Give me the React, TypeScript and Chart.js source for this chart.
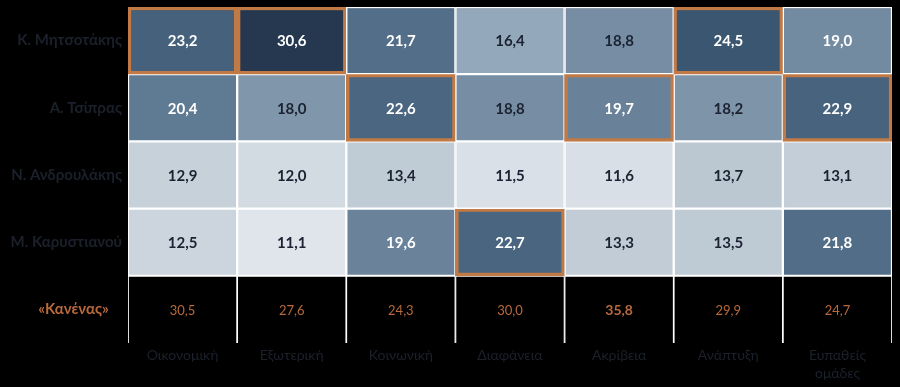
import React, { useEffect, useRef } from "react";
import { Chart, registerables } from "chart.js";

Chart.register(...registerables);

// Policy areas (columns) and respondents' choices (rows)
const categories: (string | string[])[] = [
  "Οικονομική",
  "Εξωτερική",
  "Κοινωνική",
  "Διαφάνεια",
  "Ακρίβεια",
  "Ανάπτυξη",
  ["Ευπαθείς", "ομάδες"],
];
const rowLabels = ["Κ. Μητσοτάκης", "Α. Τσίπρας", "Ν. Ανδρουλάκης", "Μ. Καρυστιανού", "«Κανένας»"];

const mitsotakis = [23.2, 30.6, 21.7, 16.4, 18.8, 24.5, 19.0];
const tsipras = [20.4, 18.0, 22.6, 18.8, 19.7, 18.2, 22.9];
const androulakis = [12.9, 12.0, 13.4, 11.5, 11.6, 13.7, 13.1];
const karystianou = [12.5, 11.1, 19.6, 22.7, 13.3, 13.5, 21.8];
const noneOfThem = [30.5, 27.6, 24.3, 30.0, 35.8, 29.9, 24.7];

const candidateRows = [mitsotakis, tsipras, androulakis, karystianou];
const allRows = [...candidateRows, noneOfThem];

const ORANGE = "#c17a45";
const ORANGE_TEXT = "#b9693b";
const DARK_LABEL = "#1b202b";
const DARK_TEXT = "#1b2232";
const FONT = "Lato, 'Noto Sans', sans-serif";

// Sequential blue-grey scale
const stops: [number, [number, number, number]][] = [
  [11.0, [224, 230, 236]],
  [13.5, [190, 202, 212]],
  [16.4, [148, 168, 187]],
  [18.8, [118, 141, 163]],
  [20.4, [95, 122, 147]],
  [22.7, [73, 101, 127]],
  [24.5, [58, 86, 112]],
  [30.6, [38, 56, 80]],
];

function heatColor(v: number): string {
  if (v <= stops[0][0]) return `rgb(${stops[0][1].join(",")})`;
  for (let i = 1; i < stops.length; i++) {
    const [v1, c1] = stops[i];
    const [v0, c0] = stops[i - 1];
    if (v <= v1) {
      const t = (v - v0) / (v1 - v0);
      const c = c0.map((a, k) => Math.round(a + (c1[k] - a) * t));
      return `rgb(${c.join(",")})`;
    }
  }
  return `rgb(${stops[stops.length - 1][1].join(",")})`;
}

const fmt = (v: number) => v.toFixed(1).replace(".", ",");

const columnMax = categories.map((_, c) => Math.max(...candidateRows.map((r) => r[c])));
const noneMax = Math.max(...noneOfThem);

const valueLabels = {
  id: "valueLabels",
  afterDatasetsDraw(chart: any) {
    const ctx = chart.ctx;
    ctx.save();
    ctx.textAlign = "center";
    ctx.textBaseline = "middle";
    chart.data.datasets.forEach((_: any, r: number) => {
      const meta = chart.getDatasetMeta(r);
      meta.data.forEach((bar: any, c: number) => {
        const v = allRows[r][c];
        const { x, y } = bar.getCenterPoint();
        if (r < 4) {
          ctx.font = `bold 15px ${FONT}`;
          ctx.fillStyle = v >= 19 ? "#ffffff" : DARK_TEXT;
        } else {
          const isMax = v === noneMax;
          ctx.font = isMax ? `bold 14px ${FONT}` : `13px ${FONT}`;
          ctx.fillStyle = ORANGE_TEXT;
        }
        ctx.fillText(fmt(v), x, y + 1);
      });
    });
    ctx.restore();
  },
};

export default function App() {
  const ref = useRef<HTMLCanvasElement | null>(null);

  useEffect(() => {
    if (!ref.current) return;
    const datasets = allRows.map((row, r) => {
      const isNone = r === 4;
      return {
        label: rowLabels[r],
        data: row.map(() => [r, r + 1]),
        grouped: false,
        barPercentage: 1,
        categoryPercentage: 1,
        borderSkipped: false,
        backgroundColor: row.map((v) => (isNone ? "#000000" : heatColor(v))),
        borderColor: row.map((v, c) =>
          !isNone && v === columnMax[c] ? ORANGE : "#ffffff"
        ),
        borderWidth: row.map((v, c) =>
          isNone
            ? { top: 1.2, left: 1.2, right: 1.2, bottom: 0 }
            : v === columnMax[c]
            ? 3.5
            : 1.5
        ),
      };
    });

    const chart = new Chart(ref.current, {
      type: "bar",
      data: { labels: categories as any, datasets: datasets as any },
      plugins: [valueLabels],
      options: {
        animation: false,
        responsive: false,
        events: [],
        layout: { padding: { left: 0, right: 8, top: 7, bottom: 0 } },
        plugins: { legend: { display: false }, tooltip: { enabled: false } },
        scales: {
          x: {
            type: "category",
            grid: { display: false, drawTicks: false },
            border: { display: false },
            ticks: {
              color: DARK_LABEL,
              font: { family: FONT, size: 14, lineHeight: 1.25 },
              padding: 4,
              maxRotation: 0,
              autoSkip: false,
            },
            afterFit: (s: any) => {
              s.height = 44;
              s.paddingLeft = 0;
              s.paddingRight = 0;
            },
          },
          y: {
            type: "linear",
            min: 0,
            max: 5,
            reverse: true,
            grid: { display: false, drawTicks: false },
            border: { display: false },
            afterBuildTicks: (s: any) => {
              s.ticks = rowLabels.map((_, i) => ({ value: i + 0.5 }));
            },
            ticks: {
              padding: 6,
              // the last row label sits a little further from the grid
              callback: (value: any) => {
                const i = Math.floor(Number(value));
                return i === 4 ? rowLabels[i] + "\u2003\u2009" : rowLabels[i];
              },
              color: (ctx: any) => (ctx.index === 4 ? ORANGE_TEXT : DARK_LABEL),
              font: { family: FONT, size: 15, weight: "bold" },
            },
            afterFit: (s: any) => {
              s.width = 128;
              s.paddingTop = 0;
              s.paddingBottom = 0;
            },
          },
        },
      } as any,
    });
    return () => chart.destroy();
  }, []);

  return (
    <div
      style={{
        position: "fixed",
        left: 0,
        top: 0,
        width: 900,
        height: 387,
        background: "#000000",
      }}
    >
      <canvas ref={ref} width={900} height={387} style={{ display: "block" }} />
    </div>
  );
}
